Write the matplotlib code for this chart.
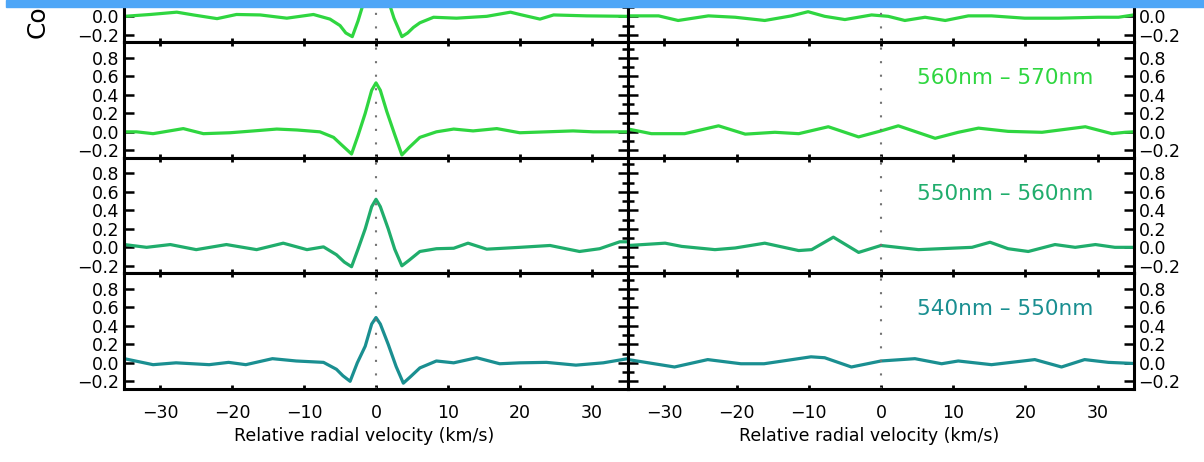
import matplotlib.pyplot as plt
from matplotlib.patches import Rectangle
from matplotlib.ticker import MultipleLocator, FixedLocator

# wavelength bands, top to bottom
bands = ["570nm \u2013 580nm", "560nm \u2013 570nm", "550nm \u2013 560nm", "540nm \u2013 550nm"]
colors = ["#2fd640", "#2fd640", "#20ad6c", "#1a8f91"]

# left column: CCF of each band (velocity in km/s, correlation)
vel_l580 = [-35, -31.4, -27.7, -25.4, -22.1, -19.4, -16.1, -12.4, -8.7, -6.4, -5.0, -4.2, -3.3,
            -2.5, -1.6, -0.7, 0, 0.7, 1.6, 2.5, 3.6, 4.4, 5.2, 6.1, 8.0, 11.2, 15.4, 18.7,
            20.0, 22.8, 24.7, 29.3, 35]
ccf_l580 = [0.0, 0.02, 0.045, 0.015, -0.025, 0.02, 0.015, -0.02, 0.02, -0.03, -0.1, -0.18, -0.22,
            -0.05, 0.18, 0.45, 0.55, 0.45, 0.2, -0.02, -0.22, -0.18, -0.12, -0.07, -0.01, -0.02,
            0.0, 0.045, 0.02, -0.03, 0.015, 0.005, 0.0]

vel_l570 = [-35, -33.3, -31, -26.8, -24, -20.3, -17, -13.8, -11, -7.8, -5.9, -4.8, -3.4, -2.5,
            -1.5, -0.6, 0, 0.6, 1.5, 2.6, 3.6, 4.6, 6.1, 8.4, 10.8, 13.5, 16.8, 20, 23.7, 27.4,
            30.2, 35]
ccf_l570 = [0.0, 0.0, -0.02, 0.035, -0.02, -0.01, 0.01, 0.03, 0.02, 0.0, -0.06, -0.14, -0.24,
            -0.04, 0.2, 0.45, 0.53, 0.45, 0.22, -0.03, -0.25, -0.17, -0.06, 0.0, 0.03, 0.01,
            0.035, -0.01, 0.0, 0.01, 0.0, 0.0]

vel_l560 = [-35, -31.9, -28.6, -25, -20.8, -16.6, -12.9, -9.6, -7.3, -5.5, -4.4, -3.4, -2.5,
            -1.5, -0.6, 0, 0.6, 1.7, 2.6, 3.6, 4.6, 6.1, 8.4, 10.8, 12.8, 15.4, 20, 24.2, 28.3,
            31.1, 33.9, 35]
ccf_l560 = [0.03, 0.0, 0.03, -0.025, 0.03, -0.025, 0.045, -0.025, 0.005, -0.08, -0.16, -0.21,
            -0.02, 0.2, 0.44, 0.52, 0.44, 0.2, -0.02, -0.2, -0.14, -0.045, -0.015, -0.01, 0.045,
            -0.02, 0.0, 0.02, -0.045, -0.015, 0.06, 0.06]

vel_l550 = [-35, -31, -27.8, -23.2, -20.5, -18.1, -14.4, -11.1, -7.3, -5.5, -4.6, -3.6, -2.6,
            -1.5, -0.6, 0, 0.6, 1.7, 2.8, 3.8, 4.8, 6.1, 8.4, 10.8, 14, 17.2, 20, 23.7, 27.8,
            31.6, 35]
ccf_l550 = [0.045, -0.02, 0.0, -0.02, 0.005, -0.02, 0.045, 0.02, 0.005, -0.07, -0.14, -0.2, 0.0,
            0.18, 0.42, 0.49, 0.42, 0.2, -0.04, -0.22, -0.15, -0.055, 0.02, 0.0, 0.055, -0.01,
            0.0, 0.005, -0.025, 0.0, 0.045]

# right column: same bands, no signal
vel_r580 = [-35, -30.8, -28.1, -23.9, -20.2, -16.1, -12.4, -10.1, -7.8, -5.0, -1.3, 1.0, 3.3,
            6.1, 8.9, 12.1, 15.3, 19.9, 24.6, 30.1, 32.9, 35]
ccf_r580 = [0.005, 0.005, -0.045, 0.005, -0.01, -0.045, 0.005, 0.05, 0.0, -0.035, 0.015, 0.0,
            -0.045, -0.01, -0.045, 0.005, 0.005, -0.02, -0.02, -0.01, -0.01, 0.015]

vel_r570 = [-35, -31.8, -27.2, -22.5, -18.8, -14.7, -11.4, -7.3, -3.1, 0, 2.4, 7.5, 10.7, 13.5,
            17.6, 22.3, 28.3, 32, 33.8, 35]
ccf_r570 = [0.03, -0.02, -0.02, 0.065, -0.025, -0.005, -0.02, 0.055, -0.055, 0.01, 0.065, -0.07,
            -0.005, 0.04, 0.005, -0.005, 0.055, -0.02, -0.005, 0.0]

vel_r560 = [-35, -29.9, -27.6, -23, -20.2, -16.1, -11.4, -9.6, -6.6, -3.1, 0, 5.2, 12.6, 15.1,
            17.6, 20.4, 24.1, 26.9, 29.7, 32.4, 35]
ccf_r560 = [0.02, 0.045, 0.01, -0.025, -0.007, 0.045, -0.035, -0.025, 0.11, -0.055, 0.02,
            -0.025, 0.0, 0.055, -0.015, -0.045, 0.03, 0.0, 0.03, 0.0, 0.0]

vel_r550 = [-35, -28.6, -24, -19.4, -16.2, -9.7, -7.8, -4.1, 0, 4.7, 8.4, 10.7, 15.3, 21.3, 25,
            28.2, 31.5, 35]
ccf_r550 = [0.035, -0.045, 0.035, -0.01, -0.01, 0.065, 0.055, -0.045, 0.02, 0.045, -0.01, 0.02,
            -0.02, 0.035, -0.045, 0.035, 0.005, -0.007]

left = [(vel_l580, ccf_l580), (vel_l570, ccf_l570), (vel_l560, ccf_l560), (vel_l550, ccf_l550)]
right = [(vel_r580, ccf_r580), (vel_r570, ccf_r570), (vel_r560, ccf_r560), (vel_r550, ccf_r550)]

W, H = 1204, 462
fig = plt.figure(figsize=(W / 100, H / 100), dpi=100)

row_h = 115.5
row_bottoms = [42.2, 157.7, 273.2, 388.7]   # px from the top
col_x = [(124.3, 627.7), (628.3, 1133.7)]

spine_w = 2.2
for r, bottom_px in enumerate(row_bottoms):
    for c, (x0, x1) in enumerate(col_x):
        ax = fig.add_axes([x0 / W, (H - bottom_px) / H, (x1 - x0) / W, row_h / H])
        vel, ccf = (left if c == 0 else right)[r]
        ax.plot(vel, ccf, color=colors[r], lw=2.3, solid_joinstyle="round")
        ax.axvline(0, color="0.45", lw=1.5, linestyle=(0, (1, 5.5)))
        ax.set_xlim(-35, 35)
        ax.set_ylim(-0.28, 0.97)
        ax.xaxis.set_major_locator(MultipleLocator(10))
        if r == 0:
            # only the lower part of the top row fits on the page
            ax.yaxis.set_major_locator(FixedLocator([-0.2, 0.0]))
        else:
            ax.yaxis.set_major_locator(MultipleLocator(0.2))
        for s in ax.spines.values():
            s.set_linewidth(spine_w)
        ax.tick_params(axis="x", direction="in", length=3, width=2, top=True,
                       labelsize=12.5, pad=11, labelbottom=(r == 3))
        ax.tick_params(axis="y", which="major", direction="in", length=7, width=1.8,
                       left=True, right=True, labelsize=12.5, pad=3.5,
                       labelleft=(c == 0), labelright=(c == 1))
        if c == 1:
            ax.yaxis.set_minor_locator(MultipleLocator(0.1))
            ax.tick_params(axis="y", which="minor", direction="inout", length=8, width=1.8,
                           left=True, right=False)
            if r > 0:
                ax.text(17.2, 0.58, bands[r], color=colors[r], fontsize=15.5,
                        ha="center", va="center")
        if r == 3:
            ax.set_xlabel("Relative radial velocity (km/s)", fontsize=12.5)
            ax.xaxis.set_label_coords(0.476, -0.33)

fig.text(38 / W, (H - 38) / H, "Correlation", rotation=90, fontsize=18,
         ha="center", va="bottom")

# header strip
fig.add_artist(Rectangle((6 / W, (H - 7) / H), 1, 7 / H, transform=fig.transFigure,
                         color="#4ea6f7", zorder=10))

fig.savefig("out.png", dpi=100)
